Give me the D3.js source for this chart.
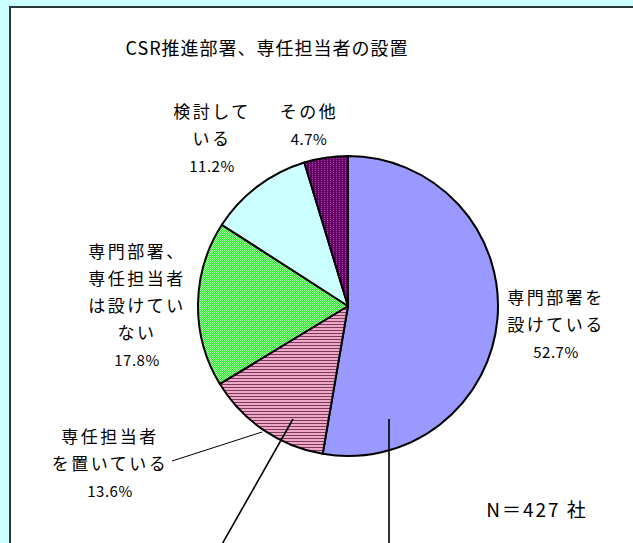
<!DOCTYPE html>
<html>
<head>
<meta charset="utf-8">
<script src="https://cdn.jsdelivr.net/npm/d3@7"></script>
<style>
  html, body { margin: 0; padding: 0; background: #ccffff; }
  svg { display: block; }
  text { font-family: "Noto Sans CJK JP", "Noto Sans", sans-serif; fill: #000; }
</style>
</head>
<body>
<div id="chart"></div>
<script>
// data
const categories = ["専門部署を設けている", "専任担当者を置いている", "専門部署、専任担当者は設けていない", "検討している", "その他"];
const values = [52.7, 13.6, 17.8, 11.2, 4.7];
const labelLines = [
  ["専門部署を", "設けている"],
  ["専任担当者", "を置いている"],
  ["専門部署、", "専任担当者", "は設けてい", "ない"],
  ["検討して", "いる"],
  ["その他"]
];
const title = "CSR推進部署、専任担当者の設置";
const note = "N＝427 社";

var width = 633,
    height = 543,
    cx = 348,
    cy = 306,
    radius = 150;

// label anchor (offset from center)
const labelPos = [
  [208, -8], [-238, 131], [-211, -54], [-136, -194], [-39, -194]
];

const svg = d3.select("#chart").append("svg")
  .attr("width", width)
  .attr("height", height);

// patterns
const defs = svg.append("defs");
const pPink = defs.append("pattern").attr("id", "pinkStripe")
  .attr("patternUnits", "userSpaceOnUse").attr("width", 4).attr("height", 3);
pPink.append("rect").attr("width", 4).attr("height", 3).attr("fill", "#f0a8c8");
pPink.append("rect").attr("width", 4).attr("height", 1).attr("fill", "#7a3a5a");

const pGreen = defs.append("pattern").attr("id", "greenCheck")
  .attr("patternUnits", "userSpaceOnUse").attr("width", 2).attr("height", 2);
pGreen.append("rect").attr("width", 2).attr("height", 2).attr("fill", "#22ee22");
pGreen.append("rect").attr("width", 1).attr("height", 1).attr("fill", "#aaffaa");
pGreen.append("rect").attr("x", 1).attr("y", 1).attr("width", 1).attr("height", 1).attr("fill", "#aaffaa");

const pPurple = defs.append("pattern").attr("id", "purpleDot")
  .attr("patternUnits", "userSpaceOnUse").attr("width", 3).attr("height", 2);
pPurple.append("rect").attr("width", 3).attr("height", 2).attr("fill", "#660066");
pPurple.append("rect").attr("width", 1).attr("height", 1).attr("fill", "#a050a0");

const fills = ["#9999ff", "url(#pinkStripe)", "url(#greenCheck)", "#ccffff", "url(#purpleDot)"];

// chart area
svg.append("rect")
  .attr("x", 10).attr("y", 7)
  .attr("width", width).attr("height", height)
  .attr("fill", "#fff")
  .attr("stroke", "#2a3a3a")
  .attr("stroke-width", 2);

svg.append("text")
  .attr("x", 267).attr("y", 49)
  .attr("text-anchor", "middle").attr("dy", "0.35em")
  .style("font-size", "18px")
  .style("letter-spacing", "1px")
  .text(title);

const pieData = d3.pie().sort(null).value(d => d)(values);
const arc = d3.arc().innerRadius(0).outerRadius(radius);

const g = svg.append("g").attr("transform", "translate(" + cx + "," + cy + ")");

g.selectAll("path.slice").data(pieData).enter()
  .append("path")
  .attr("class", "slice")
  .attr("d", arc)
  .attr("fill", (d, i) => fills[i])
  .attr("stroke", "#000")
  .attr("stroke-width", 2)
  .attr("stroke-linejoin", "round");

// leader lines
const leaders = [
  [[-176, 155], [-86, 126]],
  [[-55, 113], [-127, 240]],
  [[41, 113], [41, 240]]
];
g.selectAll("line.lead").data(leaders).enter()
  .append("line")
  .attr("x1", d => d[0][0]).attr("y1", d => d[0][1])
  .attr("x2", d => d[1][0]).attr("y2", d => d[1][1])
  .attr("stroke", "#000")
  .attr("stroke-width", (d, i) => i == 0 ? 1 : 1.6);

// labels
const lab = g.selectAll("g.lab").data(pieData).enter()
  .append("g").attr("class", "lab")
  .attr("transform", (d, i) => "translate(" + labelPos[i][0] + "," + labelPos[i][1] + ")");

lab.each(function(d, i) {
  const sel = d3.select(this);
  const lines = labelLines[i];
  lines.forEach((t, k) => {
    sel.append("text")
      .attr("y", k * 27)
      .attr("dy", "0.35em")
      .attr("text-anchor", "middle")
      .style("font-size", "17px")
      .style("letter-spacing", "2.5px")
      .text(t);
  });
  sel.append("text")
    .attr("y", lines.length * 27 + 1)
    .attr("dy", "0.35em")
    .attr("text-anchor", "middle")
    .style("font-size", "15px")
    .style("letter-spacing", "0.5px")
    .text(d3.format(".1f")(values[i]) + "%");
});

svg.append("text")
  .attr("x", 537).attr("y", 510)
  .attr("dy", "0.35em")
  .attr("text-anchor", "middle")
  .style("font-size", "19px")
  .style("letter-spacing", "2px")
  .text(note);
</script>
</body>
</html>
